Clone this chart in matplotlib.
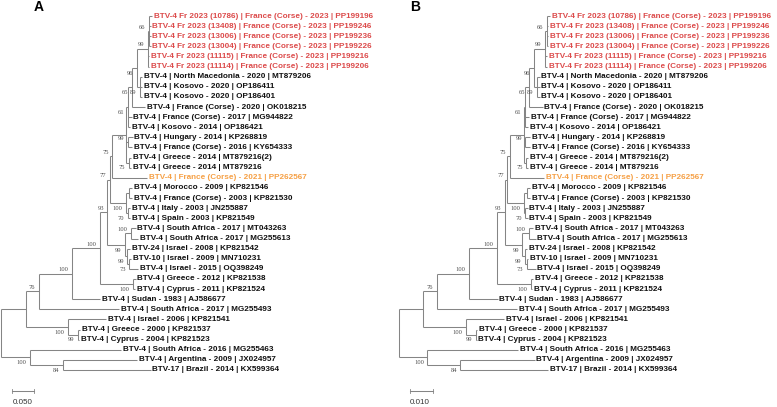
import matplotlib
matplotlib.use('Agg')
import matplotlib.pyplot as plt

# tip labels, top to bottom
leaves = [
    'BTV-4 Fr 2023 (10786) | France (Corse) - 2023 | PP199196',
    'BTV-4 Fr 2023 (13408) | France (Corse) - 2023 | PP199246',
    'BTV-4 Fr 2023 (13006) | France (Corse) - 2023 | PP199236',
    'BTV-4 Fr 2023 (13004) | France (Corse) - 2023 | PP199226',
    'BTV-4 Fr 2023 (11115) | France (Corse) - 2023 | PP199216',
    'BTV-4 Fr 2023 (11114) | France (Corse) - 2023 | PP199206',
    'BTV-4 | North Macedonia - 2020 | MT879206',
    'BTV-4 | Kosovo - 2020 | OP186411',
    'BTV-4 | Kosovo - 2020 | OP186401',
    'BTV-4 | France (Corse) - 2020 | OK018215',
    'BTV-4 | France (Corse) - 2017 | MG944822',
    'BTV-4 | Kosovo - 2014 | OP186421',
    'BTV-4 | Hungary - 2014 | KP268819',
    'BTV-4 | France (Corse) - 2016 | KY654333',
    'BTV-4 | Greece - 2014 | MT879216(2)',
    'BTV-4 | Greece - 2014 | MT879216',
    'BTV-4 | France (Corse) - 2021 | PP262567',
    'BTV-4 | Morocco - 2009 | KP821546',
    'BTV-4 | France (Corse) - 2003 | KP821530',
    'BTV-4 | Italy - 2003 | JN255887',
    'BTV-4 | Spain - 2003 | KP821549',
    'BTV-4 | South Africa - 2017 | MT043263',
    'BTV-4 | South Africa - 2017 | MG255613',
    'BTV-24 | Israel - 2008 | KP821542',
    'BTV-10 | Israel - 2009 | MN710231',
    'BTV-4 | Israel - 2015 | OQ398249',
    'BTV-4 | Greece - 2012 | KP821538',
    'BTV-4 | Cyprus - 2011 | KP821524',
    'BTV-4 | Sudan - 1983 | AJ586677',
    'BTV-4 | South Africa - 2017 | MG255493',
    'BTV-4 | Israel - 2006 | KP821541',
    'BTV-4 | Greece - 2000 | KP821537',
    'BTV-4 | Cyprus - 2004 | KP821523',
    'BTV-4 | South Africa - 2016 | MG255463',
    'BTV-4 | Argentina - 2009 | JX024957',
    'BTV-17 | Brazil - 2014 | KX599364',
]
# 2023 strains red, 2021 strain orange
leaf_group = ['2023'] * 6 + ['other'] * 10 + ['2021'] + ['other'] * 19

# distance from root to each tip (subst./site, panel A)
leaf_dist = [0.3439, 0.3402, 0.3402, 0.3402, 0.3370, 0.3370,
             0.3205, 0.3205, 0.3205, 0.3273, 0.2970, 0.2939,
             0.2993, 0.2984, 0.2948, 0.2948, 0.3318, 0.2984,
             0.2984, 0.2932, 0.2932, 0.3061, 0.3114, 0.2925,
             0.2948, 0.3114, 0.3061, 0.3039, 0.2250, 0.2689,
             0.2393, 0.1795, 0.1773, 0.2727, 0.3091, 0.3402]

# internal nodes: name, distance from root, bootstrap, label side, children
nodes = [
    ('n66', 0.3364, 66, 'above', [0, 1, 2, 3]),
    ('red', 0.3330, 99, 'above', ['n66', 4, 5]),
    ('n89', 0.3148, 89, 'below', [6, 7, 8]),
    ('n96', 0.3080, 96, 'below', ['red', 'n89']),
    ('n65', 0.2966, 65, 'below', ['n96', 9]),
    ('n61', 0.2886, 61, 'below', ['n65', 10, 11]),
    ('hun', 0.2886, 99, 'above', [12, 13]),
    ('gre', 0.2909, 75, 'below', [14, 15]),
    ('eur', 0.2841, None, '', ['n61', 'hun', 'gre']),
    ('n75', 0.2534, 75, 'above', ['eur', 16]),
    ('mor', 0.2920, None, '', [17, 18]),
    ('ita', 0.2886, 70, 'below', [19, 20]),
    ('med', 0.2841, 100, 'below', ['mor', 'ita']),
    ('n77', 0.2477, 77, 'above', ['n75', 'med']),
    ('saf', 0.2955, 100, 'above', [21, 22]),
    ('isr2', 0.2920, 73, 'below', [24, 25]),
    ('isr1', 0.2875, 99, 'below', [23, 'isr2']),
    ('n99', 0.2818, 99, 'below', ['saf', 'isr1']),
    ('n93', 0.2420, 93, 'above', ['n77', 'n99']),
    ('cyp', 0.3000, 100, 'below', [26, 27]),
    ('d100', 0.2239, 100, 'above', ['n93', 'cyp']),
    ('c100', 0.1607, 100, 'above', ['d100', 28]),
    ('n76', 0.0864, 76, 'above', ['c100', 29]),
    ('gr00', 0.1750, 99, 'below', [31, 32]),
    ('e100', 0.1523, 100, 'below', [30, 'gr00']),
    ('top', 0.0561, None, '', ['n76', 'e100']),
    ('n84', 0.1409, 84, 'below', [34, 35]),
    ('b100', 0.0659, 100, 'below', [33, 'n84']),
    ('root', 0.0, None, '', ['top', 'b100']),
]

panel_letters = ['A', 'B']
scale_bars = [0.050, 0.010]
bar_start = [0.0257, 0.00473]
dist_ratio_b = 0.189  # panel B branch lengths ~0.19 of panel A

colors = {'2023': '#dc4b4b', '2021': '#f6a045', 'other': '#111111'}
line_color = '#858585'
bs_color = '#505050'

node_map = {n[0]: n for n in nodes}


def get_y(c, cache):
    if isinstance(c, int):
        return c
    if c in cache:
        return cache[c]
    kids = node_map[c][4]
    y = (get_y(kids[0], cache) + get_y(kids[-1], cache)) / 2.0
    cache[c] = y
    return y


def get_x(c, k):
    if isinstance(c, int):
        return leaf_dist[c] * k
    return node_map[c][1] * k


def draw_tree(ax, k, bar, x0):
    cache = {}
    for name, dist, bs, side, kids in nodes:
        x = dist * k
        ys = [get_y(c, cache) for c in kids]
        ax.plot([x, x], [ys[0], ys[-1]], color=line_color, lw=0.75,
                solid_capstyle='butt')
        for c, y in zip(kids, ys):
            ax.plot([x, get_x(c, k)], [y, y], color=line_color, lw=0.75,
                    solid_capstyle='butt')
        if bs is not None:
            y = get_y(name, cache)
            if side == 'above':
                off, va = 1.0, 'bottom'
            else:
                off, va = -2.0, 'top'
            ax.annotate(str(bs), (x, y), xytext=(-2.6, off),
                        textcoords='offset points', ha='right', va=va,
                        fontsize=4.7, color=bs_color,
                        family='Liberation Serif')
    for i, name in enumerate(leaves):
        ax.annotate(name, (leaf_dist[i] * k, i), xytext=(1.3, 0),
                    textcoords='offset points', ha='left', va='center',
                    fontsize=5.82, fontweight='bold',
                    color=colors[leaf_group[i]], family='Liberation Sans')
    # scale bar
    ax.plot([x0, x0 + bar], [37.08, 37.08], color=line_color, lw=0.75)
    for xe in (x0, x0 + bar):
        ax.plot([xe, xe], [36.85, 37.31], color=line_color, lw=0.6)
    ax.text(x0, 38.25, '%.3f' % bar, ha='left', va='center', fontsize=5.8,
            color='#333333', family='Liberation Sans')


fig = plt.figure(figsize=(7.77, 4.07), dpi=100)

row_px = 10.114
ylim = ((407 - 16) / row_px, -16 / row_px)

ax_a = fig.add_axes([0, 0, 388 / 777, 1])
ax_a.set_xlim(-1 / 440, 387 / 440)
ax_a.set_ylim(*ylim)
draw_tree(ax_a, 1.0, scale_bars[0], bar_start[0])

ax_b = fig.add_axes([388 / 777, 0, 389 / 777, 1])
px_b = 440 / dist_ratio_b
ax_b.set_xlim(-10.5 / px_b, 378.5 / px_b)
ax_b.set_ylim(*ylim)
draw_tree(ax_b, dist_ratio_b, scale_bars[1], bar_start[1])

for ax in (ax_a, ax_b):
    ax.axis('off')

fig.text(39 / 777, 1 - 7 / 407, panel_letters[0], ha='center', va='center',
         fontsize=10, fontweight='bold', family='Liberation Sans')
fig.text(415 / 777, 1 - 7 / 407, panel_letters[1], ha='center', va='center',
         fontsize=10, fontweight='bold', family='Liberation Sans')

fig.savefig('out.png', dpi=100, facecolor='white')
